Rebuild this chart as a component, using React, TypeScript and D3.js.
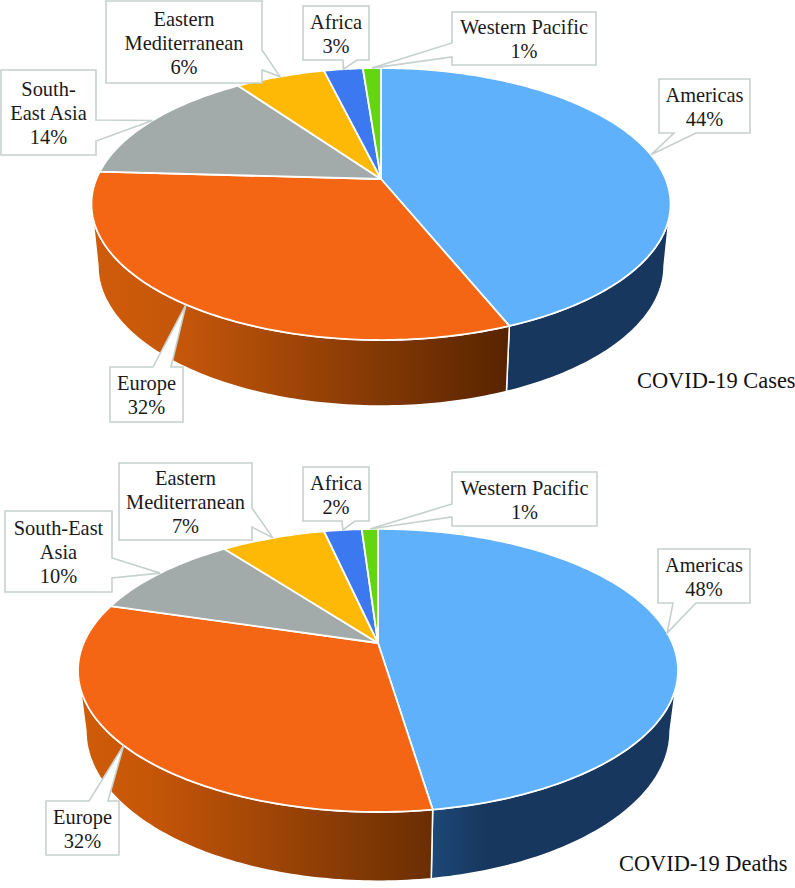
import React, { useEffect, useRef } from "react"
import * as d3 from "d3"

const categories = ["Americas", "Europe", "South-East Asia", "Eastern Mediterranean", "Africa", "Western Pacific"]
const casesValues = [43.9, 32.0, 14.3, 6.0, 2.6, 1.2]
const deathsValues = [47.6, 32.0, 10.1, 6.8, 2.45, 1.05]
const casesLabelLines = [["Americas"], ["Europe"], ["South-", "East Asia"], ["Eastern", "Mediterranean"], ["Africa"], ["Western Pacific"]]
const deathsLabelLines = [["Americas"], ["Europe"], ["South-East", "Asia"], ["Eastern", "Mediterranean"], ["Africa"], ["Western Pacific"]]
const topColors = ["#5fb1fc", "#f56614", "#a2abaa", "#fdb906", "#3c78f0", "#63d60f"]

// [x, y, w, h] of each callout, and where its pointer leaves the box: side, from, to
const casesBoxes = [
    { box: [659, 79, 91, 54], side: "bottom", base: [674, 696] },
    { box: [110, 367, 73, 55], side: "top", base: [153, 171] },
    { box: [1, 70, 95, 85], side: "right", base: [120, 141] },
    { box: [106, 1, 156, 82], side: "right", base: [50, 70] },
    { box: [303, 6, 66, 54], side: "bottom", base: [343, 357] },
    { box: [452, 12, 144, 53], side: "left", base: [43, 57] }
]
const deathsBoxes = [
    { box: [658, 549, 92, 54], side: "bottom", base: [673, 696] },
    { box: [46, 801, 73, 54], side: "top", base: [89, 108] },
    { box: [5, 511, 107, 81], side: "right", base: [558, 578] },
    { box: [119, 463, 133, 77], side: "right", base: [508, 527] },
    { box: [303, 467, 66, 54], side: "bottom", base: [342, 355] },
    { box: [452, 472, 145, 54], side: "left", base: [504, 517] }
]

const charts = [
    {
        id: "cases",
        values: casesValues,
        lines: casesLabelLines,
        boxes: casesBoxes,
        title: "COVID-19 Cases",
        titleX: 637,
        titleY: 388,
        top: { cx: 381, cy: 179, a: 284.6, b: 131.4, p: 0.184 },
        bottom: { cx: 381, cy: 240.2, a: 278.2, b: 135.3, p: 0.184 },
        sideStops: [
            [["0%", "#17375e"], ["100%", "#17375e"]],
            [["0%", "#d05c0a"], ["22%", "#c4560a"], ["100%", "#572400"]]
        ]
    },
    {
        id: "deaths",
        values: deathsValues,
        lines: deathsLabelLines,
        boxes: deathsBoxes,
        title: "COVID-19 Deaths",
        titleX: 619,
        titleY: 871,
        top: { cx: 378, cy: 643, a: 294.3, b: 136.2, p: 0.194 },
        bottom: { cx: 378, cy: 702, a: 286.5, b: 144.4, p: 0.194 },
        sideStops: [
            [["0%", "#1d4877"], ["22%", "#17375e"], ["100%", "#17375e"]],
            [["0%", "#d05c08"], ["20%", "#c65608"], ["100%", "#6a2e03"]]
        ]
    }
]

const FONT = "'Liberation Serif', 'Times New Roman', serif"
const STEP = Math.PI / 180

// perspective view of the unit disc: angle is clockwise from the back of the pie
const project = (v, angle) => {
    const depth = Math.cos(angle)
    const k = 1 + v.p * depth
    return [v.cx + (v.a * Math.sin(angle)) / k, v.cy - (v.b * depth) / k]
}

const arcAngles = (a0, a1) => {
    const n = Math.max(2, Math.ceil((a1 - a0) / STEP))
    return d3.range(n + 1).map(i => a0 + ((a1 - a0) * i) / n)
}

const line = d3.line()

const calloutPath = (item, tip) => {
    const [x, y, w, h] = item.box
    const [b0, b1] = item.base
    const r = x + w
    const u = y + h
    let pts
    if (item.side === "bottom") {
        pts = [[x, y], [r, y], [r, u], [b1, u], tip, [b0, u], [x, u]]
    } else if (item.side === "top") {
        pts = [[x, y], [b0, y], tip, [b1, y], [r, y], [r, u], [x, u]]
    } else if (item.side === "right") {
        pts = [[x, y], [r, y], [r, b0], tip, [r, b1], [r, u], [x, u]]
    } else {
        pts = [[x, y], [r, y], [r, u], [x, u], [x, b1], tip, [x, b0]]
    }
    return line(pts) + "Z"
}

export default function App() {
    const ref = useRef(null)

    useEffect(() => {
        const svg = d3.select(ref.current)
        svg.selectAll("*").remove()
        const defs = svg.append("defs")
        const pie = d3.pie().sort(null)

        charts.forEach(chart => {
            const slices = pie(chart.values)
            const g = svg.append("g").attr("class", chart.id)
            const rightEdge = Math.PI - Math.acos(chart.top.p)
            const leftEdge = Math.PI + Math.acos(chart.top.p)

            // wall of the pie, only the part that faces the viewer
            slices.forEach((s, i) => {
                const a0 = Math.max(s.startAngle, rightEdge)
                const a1 = Math.min(s.endAngle, leftEdge)
                if (a1 <= a0) return
                const id = `side-${chart.id}-${i}`
                const grad = defs.append("linearGradient").attr("id", id)
                chart.sideStops[i].forEach(([offset, color]) => {
                    grad.append("stop").attr("offset", offset).attr("stop-color", color)
                })
                const upper = arcAngles(a0, a1).map(t => project(chart.top, t))
                const lower = arcAngles(a0, a1).map(t => project(chart.bottom, t)).reverse()
                g.append("path")
                    .attr("d", line(upper.concat(lower)) + "Z")
                    .attr("fill", `url(#${id})`)
                    .attr("stroke", "#fff")
                    .attr("stroke-width", 1.5)
                    .attr("stroke-linejoin", "round")
            })

            slices.forEach((s, i) => {
                const rim = arcAngles(s.startAngle, s.endAngle).map(t => project(chart.top, t))
                g.append("path")
                    .attr("d", line([[chart.top.cx, chart.top.cy], ...rim]) + "Z")
                    .attr("fill", topColors[i])
                    .attr("stroke", "#fff")
                    .attr("stroke-width", 1.8)
                    .attr("stroke-linejoin", "round")
            })

            // callouts point at the middle of their slice
            slices.forEach((s, i) => {
                const item = chart.boxes[i]
                const tip = project(chart.top, (s.startAngle + s.endAngle) / 2)
                g.append("path")
                    .attr("d", calloutPath(item, tip))
                    .attr("fill", "#fff")
                    .attr("stroke", "#c6d1ce")
                    .attr("stroke-width", 1.6)
                const [x, y, w, h] = item.box
                const rows = [...chart.lines[i], `${d3.format(".0f")(s.value)}%`]
                const text = g.append("text")
                    .attr("text-anchor", "middle")
                    .attr("font-family", FONT)
                    .attr("font-size", 20.4)
                    .attr("fill", "#1a1a1a")
                    .attr("aria-label", categories[i])
                rows.forEach((row, r) => {
                    text.append("tspan")
                        .attr("x", x + w / 2)
                        .attr("y", y + h / 2 + 7.5 + (r - (rows.length - 1) / 2) * 24)
                        .text(row)
                })
            })

            g.append("text")
                .attr("x", chart.titleX)
                .attr("y", chart.titleY)
                .attr("font-family", FONT)
                .attr("font-size", 22.4)
                .attr("fill", "#111")
                .text(chart.title)
        })
    }, [])

    return (
        <svg
            ref={ref}
            width={795}
            height={888}
            style={{ position: "absolute", left: 0, top: 0, display: "block", background: "#fff" }}
        />
    )
}
